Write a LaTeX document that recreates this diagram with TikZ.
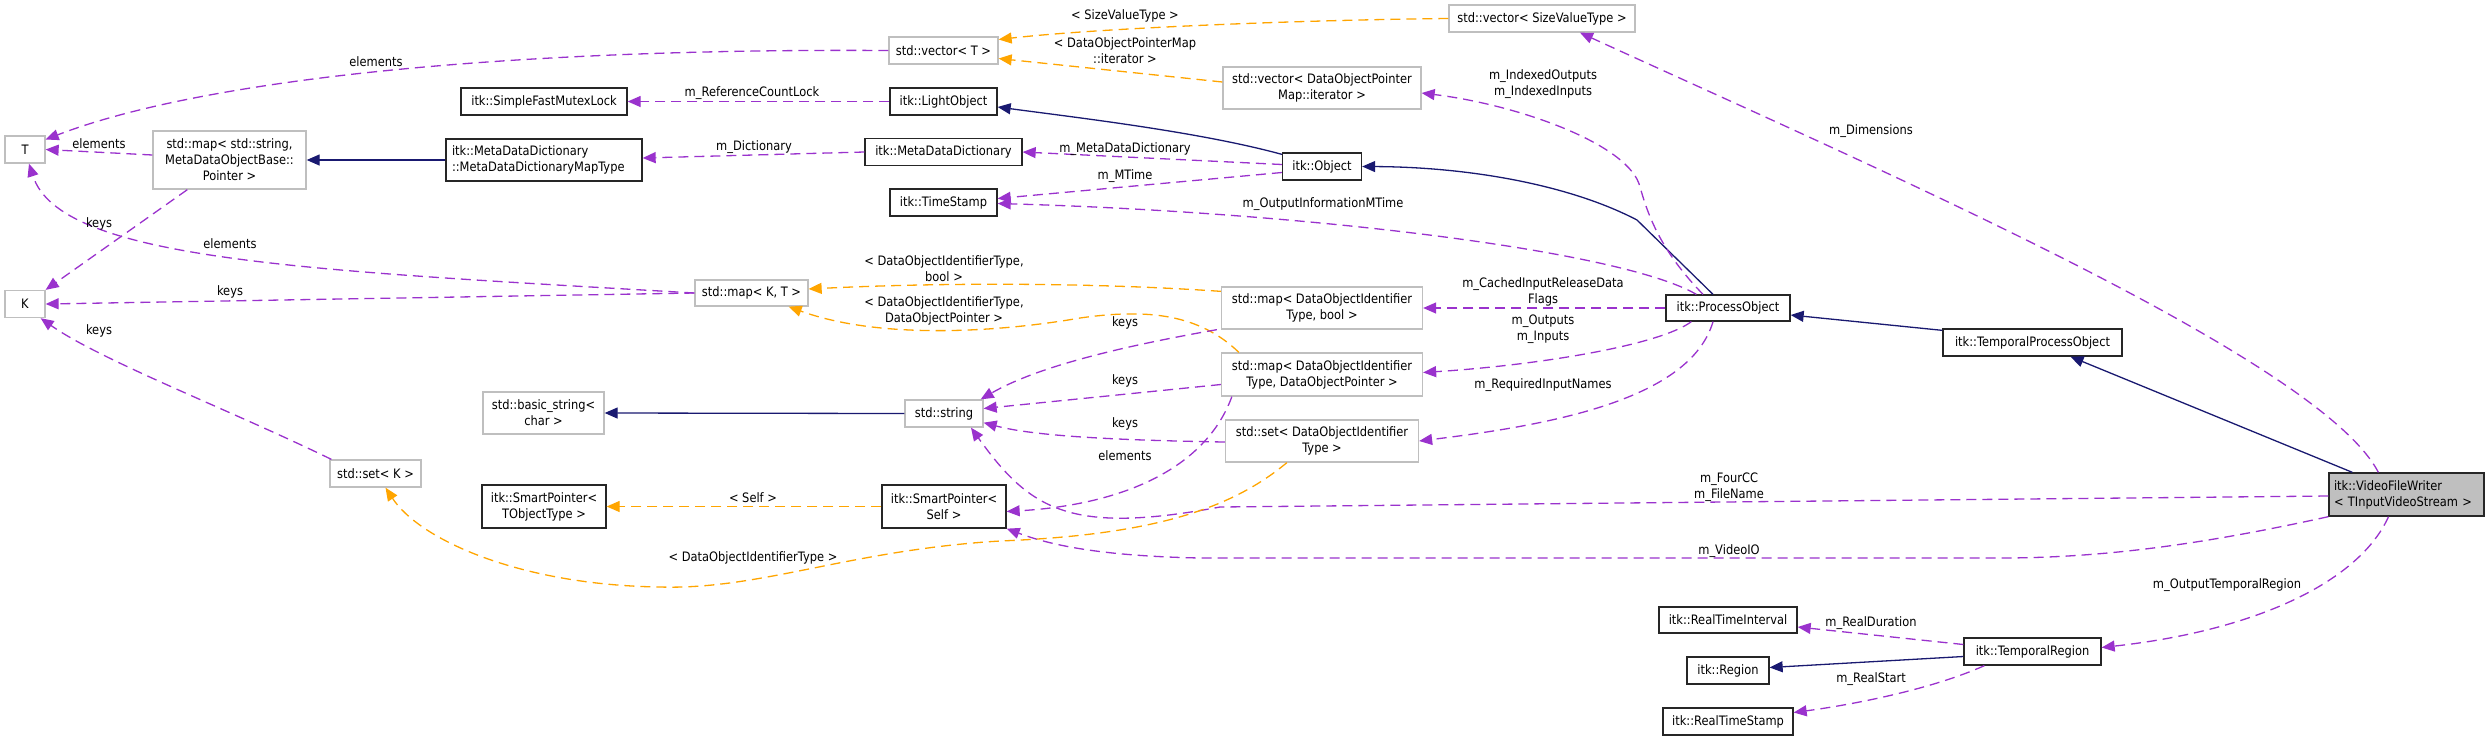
\documentclass[tikz,border=0pt]{standalone}
\usepackage{fontspec}
\newfontfamily\dfont{DejaVu Sans}[FakeStretch=0.88]
\usetikzlibrary{arrows.meta,calc}
\definecolor{pur}{HTML}{9A32CD}
\definecolor{org}{HTML}{FFA500}
\definecolor{mblue}{HTML}{191970}
\definecolor{lgray}{HTML}{BFBFBF}
\tikzset{
  base/.style={line width=1.3pt, inner sep=0pt, align=center, font=\dfont\fontsize{13}{16}\selectfont},
  bbox/.style={base, draw=black!85, fill=white},
  gbox/.style={base, draw=lgray, fill=white},
  lbl/.style={inner sep=0pt, align=center, font=\dfont\fontsize{13}{16}\selectfont},
  tip/.style={-{Triangle[length=13pt,width=11pt]}},
  usee/.style={tip, draw=pur, line width=1.3pt, dash pattern=on 10pt off 6pt},
  tmpl/.style={tip, draw=org, line width=1.3pt, dash pattern=on 10pt off 6pt},
  inh/.style={tip, draw=mblue, line width=1.3pt},
}
\begin{document}
\begin{tikzpicture}[x=1pt,y=-1pt]
\useasboundingbox (0,0) rectangle (2491,740);
% nodes
\node[gbox, minimum width=40pt, minimum height=27pt] (T) at (25,149.5) {T};
\node[gbox, minimum width=40pt, minimum height=27pt] (K) at (25,304) {K};
\node[gbox, minimum width=153pt, minimum height=58pt] (mapstr) at (229.5,160) {std::map< std::string,\\MetaDataObjectBase::\\Pointer >};
\node[bbox, minimum width=166pt, minimum height=27pt] (mutex) at (544,101.5) {itk::SimpleFastMutexLock};
\node[bbox, minimum width=196pt, minimum height=42pt, text width=184pt, align=left] (mddmt) at (544,160) {itk::MetaDataDictionary\\::MetaDataDictionaryMapType};
\node[gbox, minimum width=121pt, minimum height=42pt] (bstr) at (543.5,413) {std::basic\_string<\\char >};
\node[gbox, minimum width=91pt, minimum height=27pt] (setK) at (375.5,473.5) {std::set< K >};
\node[bbox, minimum width=124pt, minimum height=43pt] (spT) at (544,506.5) {itk::SmartPointer<\\TObjectType >};
\node[gbox, minimum width=109pt, minimum height=27pt] (vecT) at (943.5,50.5) {std::vector< T >};
\node[bbox, minimum width=107pt, minimum height=27pt] (light) at (943.5,101.5) {itk::LightObject};
\node[bbox, minimum width=157pt, minimum height=27pt] (mdd) at (943.5,152) {itk::MetaDataDictionary};
\node[bbox, minimum width=107pt, minimum height=27pt] (ts) at (943.5,202.5) {itk::TimeStamp};
\node[gbox, minimum width=113pt, minimum height=26pt] (mapKT) at (751.5,293) {std::map< K, T >};
\node[gbox, minimum width=78pt, minimum height=27pt] (str) at (944,413.5) {std::string};
\node[bbox, minimum width=124pt, minimum height=43pt] (spS) at (944,506.5) {itk::SmartPointer<\\Self >};
\node[gbox, minimum width=198pt, minimum height=42pt] (vecIt) at (1322,88) {std::vector< DataObjectPointer\\Map::iterator >};
\node[bbox, minimum width=79pt, minimum height=27pt] (obj) at (1322,166.5) {itk::Object};
\node[gbox, minimum width=201pt, minimum height=42pt] (mapB) at (1322,308) {std::map< DataObjectIdentifier\\Type, bool >};
\node[gbox, minimum width=201pt, minimum height=43pt] (mapP) at (1322,374.5) {std::map< DataObjectIdentifier\\Type, DataObjectPointer >};
\node[gbox, minimum width=193pt, minimum height=42pt] (setD) at (1322,441) {std::set< DataObjectIdentifier\\Type >};
\node[gbox, minimum width=186pt, minimum height=27pt] (vecS) at (1542,18.5) {std::vector< SizeValueType >};
\node[bbox, minimum width=124pt, minimum height=26pt] (po) at (1728,308) {itk::ProcessObject};
\node[bbox, minimum width=179pt, minimum height=27pt] (tpo) at (2032.5,342.5) {itk::TemporalProcessObject};
\node[bbox, fill=lgray, minimum width=155pt, minimum height=43pt, text width=145pt, align=left] (vfw) at (2406.5,494.5) {itk::VideoFileWriter\\< TInputVideoStream >};
\node[bbox, minimum width=138pt, minimum height=26pt] (rti) at (1728,620) {itk::RealTimeInterval};
\node[bbox, minimum width=137pt, minimum height=27pt] (tr) at (2032.5,651.5) {itk::TemporalRegion};
\node[bbox, minimum width=82pt, minimum height=27pt] (reg) at (1728,670.5) {itk::Region};
\node[bbox, minimum width=130pt, minimum height=27pt] (rts) at (1728,721.5) {itk::RealTimeStamp};
% edges
\draw[usee] ($(mapstr.west)+(0,-5)$) -- (T.east);
\draw[usee] ($(mapstr.south west)+(35,0)$) -- (K.north east);
\draw[usee] (vecT.west) .. controls (500,48) and (200,80) .. ($(T.east)+(0,-10)$);
\draw[usee] (mapKT.west) .. controls (300,270) and (60,260) .. ($(T.south)+(4,0)$);
\draw[usee] (mapKT.west) -- (K.east);
\draw[usee] ($(setK.north west)+(2,0)$) .. controls (230,410) and (100,360) .. ($(K.south east)+(-5,0)$);
\draw[inh] (mddmt.west) -- (mapstr.east);
\draw[usee] (mdd.west) -- ($(mddmt.east)+(0,-2)$);
\draw[usee] (light.west) -- (mutex.east);
\draw[inh] ($(obj.north west)+(0,2)$) .. controls (1200,132) and (1080,118) .. ($(light.east)+(0,5.5)$);
\draw[usee] ($(obj.west)+(0,-2)$) -- (mdd.east);
\draw[usee] ($(obj.west)+(0,6)$) -- ($(ts.east)+(0,-4)$);
\draw[usee] ($(po.north west)+(31,0)$) .. controls (1620,250) and (1300,212) .. ($(ts.east)+(0,1)$);
\draw[inh] ($(po.north)+(-15,0)$) -- (1637,220) .. controls (1570,185) and (1470,167) .. (obj.east);
\draw[usee] ($(po.north)+(-25,0)$) .. controls (1660,250) and (1648,215) .. (1640,187) .. controls (1630,145) and (1520,105) .. ($(vecIt.east)+(0,5)$);
\draw[usee] (po.west) -- (mapB.east);
\draw[usee] ($(po.south west)+(26,0)$) .. controls (1660,345) and (1540,365) .. ($(mapP.east)+(0,-2)$);
\draw[usee] ($(po.south)+(-15,0)$) .. controls (1690,400) and (1550,425) .. (setD.east);
\draw[inh] ($(tpo.north west)+(0,2)$) -- ($(po.east)+(0,7)$);
\draw[inh] ($(vfw.north west)+(24,0)$) -- ($(tpo.south)+(38,0)$);
\draw[usee] ($(vfw.north west)+(50,0)$) .. controls (2320,360) and (1880,170) .. ($(vecS.south)+(38,0)$);
\draw[usee] ($(vfw.west)+(0,1.5)$) -- (1220,507) .. controls (1070,535) and (1030,510) .. ($(str.south)+(27,0)$);
\draw[usee] (vfw.south west) .. controls (2200,545) and (2100,558) .. (2000,558) -- (1200,558) .. controls (1100,556) and (1050,545) .. (spS.south east);
\draw[usee] ($(vfw.south)+(-18,0)$) .. controls (2360,580) and (2260,630) .. ($(tr.east)+(0,-4)$);
\draw[usee] ($(tr.west)+(0,-7)$) -- ($(rti.east)+(0,7)$);
\draw[inh] ($(tr.west)+(0,5)$) -- ($(reg.east)+(0,-3)$);
\draw[usee] ($(tr.south west)+(21,0)$) .. controls (1930,690) and (1850,705) .. ($(rts.east)+(0,-9)$);
\draw[inh] (str.west) -- (bstr.east);
\draw[tmpl] (spS.west) -- (spT.east);
\draw[tmpl] (vecS.west) .. controls (1300,20) and (1100,28) .. ($(vecT.east)+(0,-11)$);
\draw[tmpl] ($(vecIt.west)+(0,-6)$) -- ($(vecT.east)+(0,8)$);
\draw[tmpl] ($(mapB.north west)+(0,5)$) .. controls (1100,283) and (950,282) .. ($(mapKT.east)+(0,-4)$);
\draw[tmpl] ($(mapP.north west)+(18,0)$) .. controls (1200,315) and (1150,308) .. (1080,318) .. controls (1000,332) and (880,340) .. ($(mapKT.south east)+(-20,0)$);
\draw[tmpl] ($(setD.south west)+(62,0)$) .. controls (1230,510) and (1150,535) .. (1000,541) .. controls (850,550) and (760,590) .. (660,587) .. controls (520,585) and (420,540) .. ($(setK.south)+(10,0)$);
\draw[usee] ($(mapB.south west)+(-4,0)$) .. controls (1130,345) and (1040,365) .. ($(str.north east)+(-3,0)$);
\draw[usee] ($(mapP.west)+(0,10)$) -- ($(str.east)+(0,-5)$);
\draw[usee] ($(setD.west)+(0,1)$) .. controls (1100,440) and (1030,435) .. ($(str.south east)+(0,-5)$);
\draw[usee] ($(mapP.south west)+(11,0)$) .. controls (1205,470) and (1120,505) .. ($(spS.east)+(0,5)$);
% labels
\node[lbl] (l1) at (376,62) {elements};
\node[lbl] (l2) at (99,144) {elements};
\node[lbl] (l3) at (99,224) {keys};
\node[lbl] (l4) at (230,244) {elements};
\node[lbl] (l5) at (230,292) {keys};
\node[lbl] (l6) at (99,331) {keys};
\node[lbl] (l7) at (752,93) {m\_ReferenceCountLock};
\node[lbl] (l8) at (754,147) {m\_Dictionary};
\node[lbl] (l9) at (1125,149) {m\_MetaDataDictionary};
\node[lbl] (l10) at (1125,176) {m\_MTime};
\node[lbl] (l11) at (1323,204) {m\_OutputInformationMTime};
\node[lbl] (l12) at (1125,16) {< SizeValueType >};
\node[lbl] (l13) at (1125,51) {< DataObjectPointerMap\\::iterator >};
\node[lbl] (l14) at (1543,84) {m\_IndexedOutputs\\m\_IndexedInputs};
\node[lbl] (l15) at (1871,131) {m\_Dimensions};
\node[lbl] (l16) at (1543,292) {m\_CachedInputReleaseData\\Flags};
\node[lbl] (l17) at (1543,329) {m\_Outputs\\m\_Inputs};
\node[lbl] (l18) at (1543,385) {m\_RequiredInputNames};
\node[lbl] (l19) at (944,269) {< DataObjectIdentifierType,\\bool >};
\node[lbl] (l20) at (944,311) {< DataObjectIdentifierType,\\DataObjectPointer >};
\node[lbl] (l21) at (1125,323) {keys};
\node[lbl] (l22) at (1125,381) {keys};
\node[lbl] (l23) at (1125,424) {keys};
\node[lbl] (l24) at (1125,456) {elements};
\node[lbl] (l25) at (753,498) {< Self >};
\node[lbl] (l26) at (753,558) {< DataObjectIdentifierType >};
\node[lbl] (l27) at (1729,487) {m\_FourCC\\m\_FileName};
\node[lbl] (l28) at (1729,551) {m\_VideoIO};
\node[lbl] (l29) at (2227,585) {m\_OutputTemporalRegion};
\node[lbl] (l30) at (1871,623) {m\_RealDuration};
\node[lbl] (l31) at (1871,679) {m\_RealStart};
\end{tikzpicture}
\end{document}
